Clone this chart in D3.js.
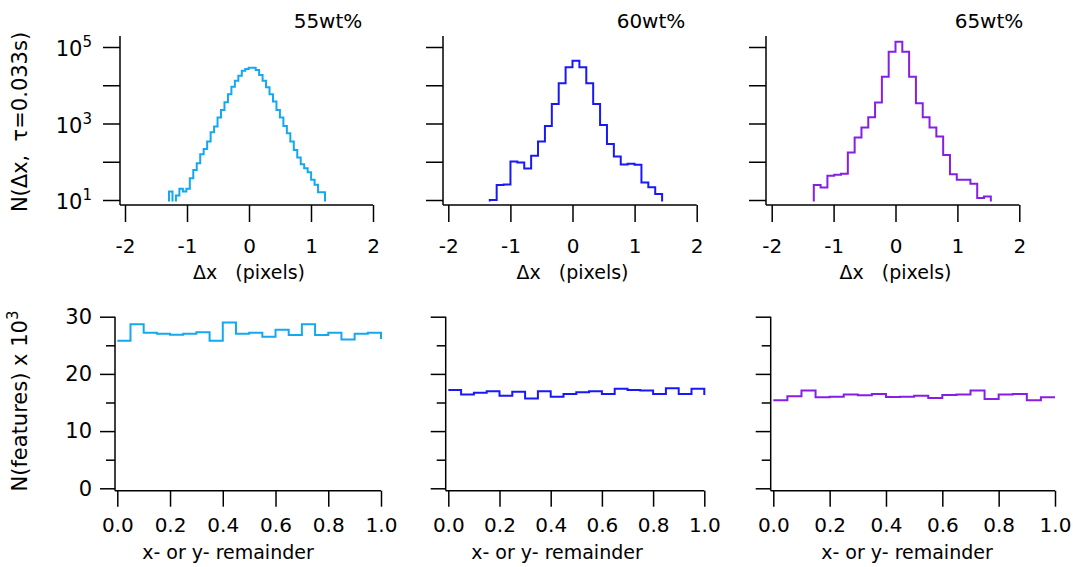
<!DOCTYPE html>
<html>
<head>
<meta charset="utf-8">
<script src="https://cdn.jsdelivr.net/npm/d3@7"></script>
<style>
    body { margin: 0; background: #fff; }
    svg text { font-family: "DejaVu Sans", sans-serif; fill: #000; }
    .axis line, .axis path { stroke: #000; stroke-width: 1.5; }
</style>
</head>
<body>
<svg id="chart" width="1073" height="567"></svg>
<script>
(function (d3) {
    'use strict';

    // ---- data ----
    var panelTitles = ['55wt%', '60wt%', '65wt%'];

    // N(dx) histograms: first bin edge, bin width, counts per bin (last entry closes the step)
    var dxStart = [-1.29, -1.332, -1.32];
    var dxWidth = [0.0559, 0.111, 0.110];
    var dx55 = [16.7, 0, 13.1, 19.6, 16.7, 19.6, 37, 61, 92, 157, 217, 337, 590, 830, 1425, 2260, 3590,
        5800, 9200, 13200, 17800, 24100, 26600, 28800, 28800, 25100, 18600, 13200, 8850, 5800, 3740,
        2260, 1425, 865, 556, 337, 204, 129, 86, 68, 53, 33.7, 24.9, 16.0, 16.0, 0];
    var dx60 = [10, 24.5, 25.4, 101, 95.6, 66.5, 143, 337, 866, 3250, 11300, 29500, 44000, 29500, 11300,
        3250, 918, 293, 137, 84.5, 88, 83, 28.7, 21.7, 14.3, 0];
    var dx65 = [24.5, 21.2, 42.8, 45.5, 48.3, 174, 428, 781, 1460, 3520, 16800, 75300, 137000, 75300,
        16800, 3390, 1460, 781, 455, 151, 47.4, 33.7, 33.7, 26.5, 11.2, 12.3, 0];

    // N(features) x 10^3 vs remainder, 20 bins + closing point
    var remStart = 0, remWidth = 0.05;
    var rem55 = [25.8, 28.7, 27.2, 27.0, 26.85, 27.0, 27.3, 25.8, 29.0, 27.0, 27.2, 26.5, 27.7, 26.8,
        28.7, 26.8, 27.2, 26.0, 27.0, 27.2, 26.1];
    var rem60 = [17.2, 16.4, 16.7, 16.95, 16.2, 16.9, 15.7, 16.95, 16.0, 16.5, 16.8, 16.95, 16.5, 17.4,
        17.2, 17.1, 16.5, 17.5, 16.5, 17.4, 16.3];
    var rem65 = [15.4, 16.1, 17.1, 15.9, 16.0, 16.4, 16.25, 16.5, 15.95, 16.0, 16.2, 15.8, 16.3, 16.4,
        17.1, 15.6, 16.4, 16.5, 15.4, 15.9, 15.9];

    var dxTicks = [-2, -1, 0, 1, 2];
    var logMajor = [10, 1000, 100000],
        logMinor = [100, 10000];
    var remTicks = [0, 0.2, 0.4, 0.6, 0.8, 1.0];
    var countMajor = [0, 10, 20, 30],
        countMinor = [5, 15, 25];

    // ---- layout ----
    var colors = ['#14a8f0', '#1818f8', '#871ee6'];
    var topPanels = [
        { axisX: 120, x0: 125, x1: 373, titleX: 328 },
        { axisX: 443, x0: 448.3, x1: 696.7, titleX: 651 },
        { axisX: 766, x0: 771.7, x1: 1019.3, titleX: 989 }
    ];
    var topY = { lo: 200, hi: 47, axisTop: 36, axisBottom: 205 };
    var botPanels = [
        { axisX: 115, x0: 117.3, x1: 381, titleX: 228 },
        { axisX: 445.7, x0: 448.3, x1: 704.3, titleX: 557 },
        { axisX: 770.7, x0: 773.3, x1: 1055, titleX: 907 }
    ];
    var botY = { lo: 488.3, hi: 316.7, axisBottom: 490.7 };

    var svg = d3.select('#chart');
    var defs = svg.append('defs');

    var dxSeries = [dx55, dx60, dx65],
        remSeries = [rem55, rem60, rem65];

    // ---- top row: log histograms ----
    dxSeries.forEach(function (vals, p) {
        var P = topPanels[p];
        var x = d3.scaleLinear().domain([-2, 2]).range([P.x0, P.x1]);
        var y = d3.scaleLog().domain([10, 1e5]).range([topY.lo, topY.hi]);
        var floorY = topY.lo + 6;

        defs.append('clipPath').attr('id', 'clipTop' + p)
            .append('rect')
            .attr('x', P.axisX).attr('y', topY.axisTop - 10)
            .attr('width', P.x1 - P.axisX + 20)
            .attr('height', topY.lo + 1.5 - (topY.axisTop - 10));

        var pts = [[dxStart[p], 0]].concat(vals.map(function (v, i) {
            return [dxStart[p] + i * dxWidth[p], v];
        }));

        var line = d3.line()
            .x(function (d) { return x(d[0]); })
            .y(function (d) { return d[1] > 0 ? y(d[1]) : floorY; })
            .curve(d3.curveStepAfter);

        svg.append('path')
            .datum(pts)
            .attr('clip-path', 'url(#clipTop' + p + ')')
            .attr('fill', 'none')
            .attr('stroke', colors[p])
            .attr('stroke-width', 2)
            .attr('d', line);

        // x axis
        var gx = svg.append('g')
            .attr('class', 'axis')
            .attr('transform', 'translate(0,' + topY.axisBottom + ')')
            .call(d3.axisBottom(x).tickValues(dxTicks).tickSize(17).tickPadding(17)
                .tickFormat(function (d) { return String(d); }));
        gx.select('.domain').remove();
        gx.append('line').attr('x1', P.axisX).attr('x2', P.x1);
        gx.selectAll('text').attr('font-size', 20);

        // y axis
        var gy = svg.append('g')
            .attr('class', 'axis')
            .attr('transform', 'translate(' + P.axisX + ',0)')
            .call(d3.axisLeft(y).tickValues(logMajor.concat(logMinor)).tickSize(17).tickPadding(11)
                .tickFormat(function () { return ''; }));
        gy.select('.domain').remove();
        gy.append('line').attr('y1', topY.axisTop).attr('y2', topY.axisBottom);
        if (p === 0) {
            gy.selectAll('.tick text').each(function (d) {
                if (logMajor.indexOf(d) < 0) return;
                var t = d3.select(this).attr('font-size', 21).attr('dy', '0.42em');
                t.append('tspan').text('10');
                t.append('tspan').attr('dy', '-0.6em').attr('font-size', 15)
                    .text(Math.round(Math.log10(d)));
            });
        }

        svg.append('text')
            .attr('x', P.titleX).attr('y', 28)
            .attr('text-anchor', 'middle')
            .attr('font-size', 20)
            .text(panelTitles[p]);

        svg.append('text')
            .attr('x', (P.x0 + P.x1) / 2).attr('y', 279)
            .attr('text-anchor', 'middle')
            .attr('font-size', 19)
            .style('white-space', 'pre')
            .text('\u0394x   (pixels)');
    });

    // ---- bottom row: remainder histograms ----
    remSeries.forEach(function (vals, p) {
        var P = botPanels[p];
        var x = d3.scaleLinear().domain([0, 1]).range([P.x0, P.x1]);
        var y = d3.scaleLinear().domain([0, 30]).range([botY.lo, botY.hi]);

        var line = d3.line()
            .x(function (d, i) { return x(remStart + i * remWidth); })
            .y(function (d) { return y(d); })
            .curve(d3.curveStepAfter);

        svg.append('path')
            .datum(vals)
            .attr('fill', 'none')
            .attr('stroke', colors[p])
            .attr('stroke-width', 2)
            .attr('d', line);

        var gx = svg.append('g')
            .attr('class', 'axis')
            .attr('transform', 'translate(0,' + botY.axisBottom + ')')
            .call(d3.axisBottom(x).tickValues(remTicks).tickSize(16).tickPadding(11)
                .tickFormat(d3.format('.1f')));
        gx.select('.domain').remove();
        gx.append('line').attr('x1', P.axisX).attr('x2', P.x1);
        gx.selectAll('text').attr('font-size', 20);

        var gy = svg.append('g')
            .attr('class', 'axis')
            .attr('transform', 'translate(' + P.axisX + ',0)')
            .call(d3.axisLeft(y).tickValues(countMajor).tickSize(15).tickPadding(8)
                .tickFormat(p === 0 ? d3.format('d') : function () { return ''; }));
        gy.select('.domain').remove();
        gy.selectAll('text').attr('font-size', 21);
        gy.append('line').attr('y1', botY.hi).attr('y2', botY.axisBottom);

        var gm = svg.append('g')
            .attr('class', 'axis')
            .attr('transform', 'translate(' + P.axisX + ',0)')
            .call(d3.axisLeft(y).tickValues(countMinor).tickSize(9)
                .tickFormat(function () { return ''; }));
        gm.select('.domain').remove();

        svg.append('text')
            .attr('x', P.titleX).attr('y', 559)
            .attr('text-anchor', 'middle')
            .attr('font-size', 19)
            .text('x- or y- remainder');
    });

    // ---- y titles ----
    svg.append('text')
        .attr('transform', 'translate(27,122) rotate(-90)')
        .attr('text-anchor', 'middle')
        .attr('font-size', 21)
        .style('white-space', 'pre')
        .text('N(\u0394x,  \u03c4=0.033s)');

    var yt = svg.append('text')
        .attr('transform', 'translate(27,401) rotate(-90)')
        .attr('text-anchor', 'middle')
        .attr('font-size', 21);
    yt.append('tspan').text('N(features) x 10');
    yt.append('tspan').attr('dy', '-0.6em').attr('font-size', 15).text('3');

})(window.d3);
</script>
</body>
</html>
